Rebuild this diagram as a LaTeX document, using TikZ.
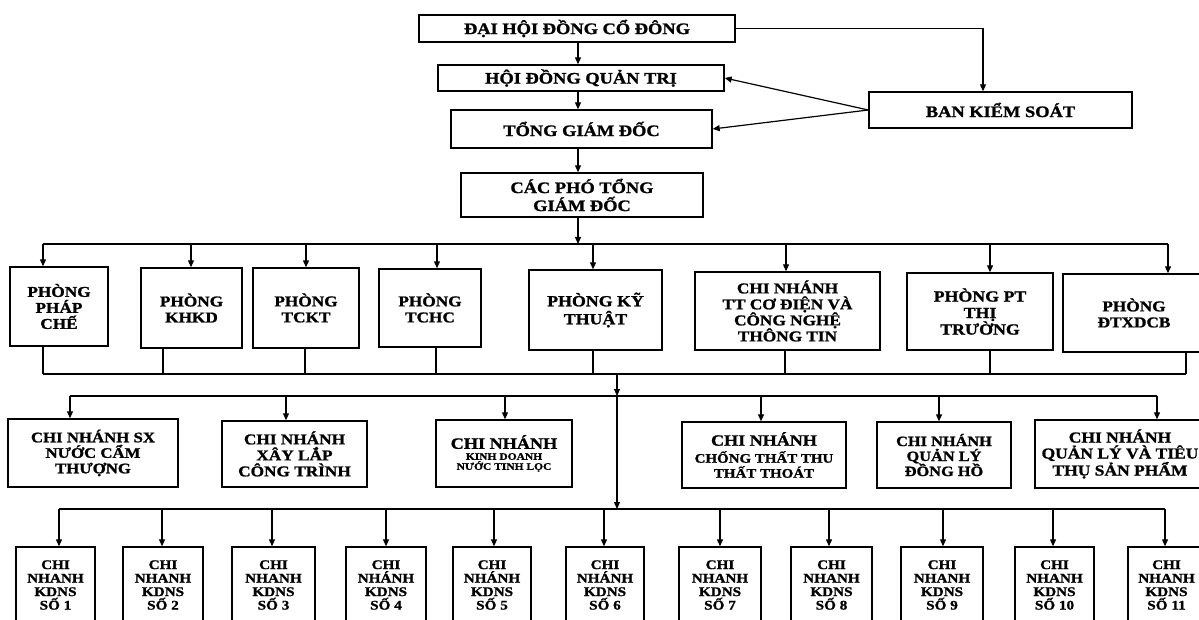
\documentclass[tikz,border=0pt]{standalone}
\usepackage{fontspec}
\setmainfont{Liberation Serif}[FakeStretch=1.15, BoldFeatures={FakeBold=1.2}]
\usetikzlibrary{arrows.meta}
\newcommand\setfs[2]{\fontsize{#1}{#2}\selectfont}
\tikzset{
  box/.style={draw, line width=1.4pt, align=center, inner sep=1pt},
  topbox/.style={box, font=\bfseries\setfs{16}{18}},
  lvtwo/.style={box, font=\bfseries\setfs{15}{16}},
  lvthree/.style={box, font=\bfseries\setfs{15}{16}},
  lvfour/.style={box, font=\bfseries\setfs{13.2}{13.5}, minimum height=76pt},
  conn/.style={line width=1.2pt},
  arr/.style={conn, -{Triangle[length=7pt,width=6pt]}},
}
\begin{document}
\begin{tikzpicture}[x=1pt,y=-1pt]
\useasboundingbox (0,0) rectangle (1199,620);
\clip (0,0) rectangle (1199,620);

% ---------- top ----------
\node[topbox, minimum width=316pt, minimum height=27pt] (dh) at (577,28.5) {ĐẠI HỘI ĐỒNG CỔ ĐÔNG};
\node[topbox, minimum width=286pt, minimum height=26pt] (hq) at (581,78) {HỘI ĐỒNG QUẢN TRỊ};
\node[topbox, minimum width=261pt, minimum height=38pt] (tg) at (581.5,129) {TỔNG GIÁM ĐỐC};
\node[topbox, minimum width=242pt, minimum height=44pt] (pt) at (582,195) {CÁC PHÓ TỔNG\\GIÁM ĐỐC};
\node[topbox, minimum width=263pt, minimum height=36pt] (bks) at (1000.5,110) {BAN KIỂM SOÁT};

\coordinate (cx) at (578,0);
\coordinate (kx) at (983,0);
\coordinate (bus2) at (0,244);
\draw[arr] (cx |- dh.south) -- (cx |- hq.north);
\draw[arr] (cx |- hq.south) -- (cx |- tg.north);
\draw[arr] (cx |- tg.south) -- (cx |- pt.north);
\draw[arr] (cx |- pt.south) -- (cx |- bus2);
\draw[arr] (dh.east) -- (kx |- dh.east) -- (kx |- bks.north);
\draw[arr] (bks.west) -- (hq.east);
\draw[arr] (bks.west) -- (tg.east);

% ---------- level 2 ----------
\node[lvtwo, minimum width=98pt, minimum height=79pt] (pc) at (59,306.5) {PHÒNG\\PHÁP\\CHẾ};
\node[lvtwo, minimum width=101pt, minimum height=80pt] (kh) at (191.5,308) {PHÒNG\\KHKD};
\node[lvtwo, minimum width=106pt, minimum height=80pt] (tk) at (306,308) {PHÒNG\\TCKT};
\node[lvtwo, minimum width=102pt, minimum height=78pt] (th) at (430,308) {PHÒNG\\TCHC};
\node[lvtwo, minimum width=133pt, minimum height=80pt, font=\bfseries\setfs{15.5}{18}] (kt) at (595.5,310) {PHÒNG KỸ\\THUẬT};
\node[lvtwo, minimum width=185pt, minimum height=78pt, font=\bfseries\setfs{15}{16}] (cn) at (787.5,311) {CHI NHÁNH\\TT CƠ ĐIỆN VÀ\\CÔNG NGHỆ\\THÔNG TIN};
\node[lvtwo, minimum width=146pt, minimum height=77pt, font=\bfseries\setfs{15.5}{16.5}] (pp) at (980,311.5) {PHÒNG PT\\THỊ\\TRƯỜNG};
\node[lvtwo, minimum width=142pt, minimum height=78pt] (dt) at (1134,313) {PHÒNG\\ĐTXDCB};

% top bus of level 2
\draw[conn] (43,244) -- (1168,244);
\foreach \n/\x in {pc/43, kh/191, tk/306, th/437, kt/593, cn/786, pp/990, dt/1168}{
  \draw[arr] (\x,244) -- (\x,244 |- \n.north);
}
% bottom bus of level 2
\coordinate (bus2b) at (0,374);
\draw[conn] (43,374) -- (1186,374);
\foreach \n/\x in {pc/43, kh/163, tk/305, th/436, kt/593, cn/785, pp/990, dt/1186}{
  \draw[conn] (\x,374 |- \n.south) -- (\x,374);
}

% ---------- level 3 ----------
\node[lvthree, minimum width=170pt, minimum height=68pt, font=\bfseries\setfs{14.6}{15.5}] (sx) at (93,453) {CHI NHÁNH SX\\NƯỚC CẨM\\THƯỢNG};
\node[lvthree, minimum width=145pt, minimum height=66pt] (xl) at (294.5,454) {CHI NHÁNH\\XÂY LẮP\\CÔNG TRÌNH};
\node[lvthree, minimum width=136pt, minimum height=67pt, font=\bfseries\setfs{10}{10}] (kd) at (504,453.5) {{\setfs{15.8}{17}CHI NHÁNH}\\[1pt]KINH DOANH\\NƯỚC TINH LỌC};
\node[lvthree, minimum width=164pt, minimum height=66pt, font=\bfseries\setfs{13}{15}] (ct) at (764,455) {{\setfs{15.7}{17}CHI NHÁNH}\\[2pt]CHỐNG THẤT THU\\THẤT THOÁT};
\node[lvthree, minimum width=134pt, minimum height=66pt, font=\bfseries\setfs{14.2}{15}] (dg) at (944,455) {CHI NHÁNH\\QUẢN LÝ\\ĐỒNG HỒ};
\node[lvthree, minimum width=170pt, minimum height=68pt, font=\bfseries\setfs{15.2}{16}] (tt) at (1120,454) {CHI NHÁNH\\QUẢN LÝ VÀ TIÊU\\THỤ SẢN PHẨM};

\coordinate (mx) at (617,0);
\draw[arr] (mx |- bus2b) -- (617,396);
\draw[conn] (70,396) -- (1157,396);
\foreach \n/\x in {sx/70, xl/286, kd/505, ct/761, dg/939, tt/1157}{
  \draw[arr] (\x,396) -- (\x,396 |- \n.north);
}
\draw[arr] (617,396) -- (617,509);

% ---------- level 4 ----------
\draw[conn] (59,509) -- (1165,509);
\foreach \i/\cxx/\w/\dx/\nh in {1/55.5/79/59/NHANH, 2/163/80/162/NHANH, 3/273.5/83/272/NHANH, 4/386/80/386/NHÁNH, 5/492/78/494/NHÁNH, 6/605/78/604/NHÁNH, 7/720/82/720/NHANH, 8/831.5/81/829/NHANH, 9/942/82/943/NHANH, 10/1054.5/79/1053/NHANH, 11/1166.5/77/1165/NHANH}{
  \node[lvfour, minimum width=\w pt] (k\i) at (\cxx,585) {CHI\\\nh\\KDNS\\SỐ \i};
  \draw[arr] (\dx,509) -- (\dx,509 |- k\i.north);
}
\end{tikzpicture}
\end{document}
